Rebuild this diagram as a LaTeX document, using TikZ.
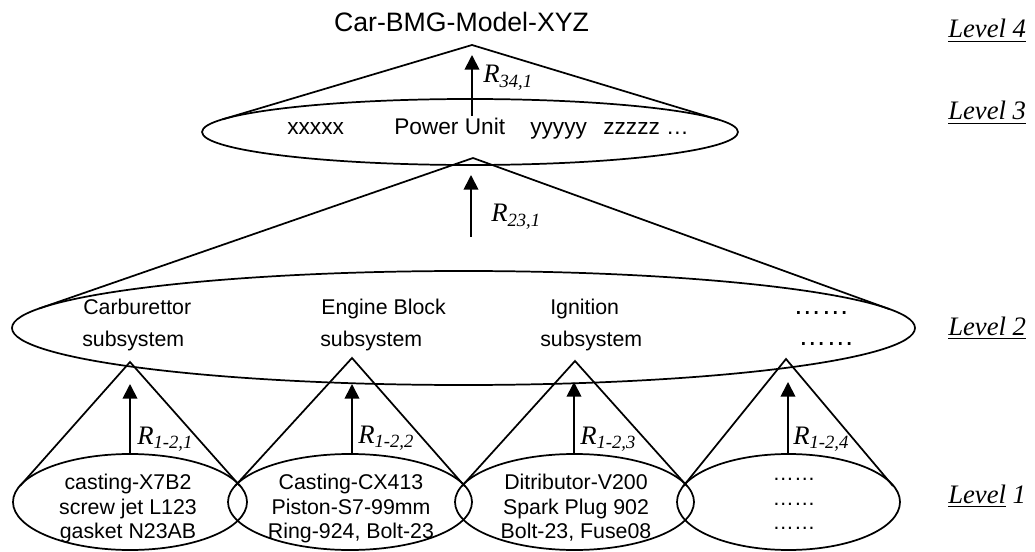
\documentclass[tikz,border=0pt]{standalone}
\usepackage{fontspec}
\setmainfont{Liberation Serif}
\newfontfamily\arial{Liberation Sans}
\usetikzlibrary{shapes.geometric,arrows.meta}
\newcommand{\Rl}[1]{{\fontsize{20}{24}\selectfont\itshape R}{\fontsize{14}{16}\selectfont\itshape\raisebox{-3.5pt}{#1}}}
\newcommand{\ulin}[1]{\setbox0\hbox{#1}\rlap{\rule[-3.2pt]{\wd0}{1.1pt}}\box0\relax}
\begin{document}
\begin{tikzpicture}[x=0.75pt,y=-0.75pt,
  ell/.style={draw, ellipse, inner sep=0pt, outer sep=0pt, line width=1.3pt},
  ln/.style={line width=1.3pt},
  arr/.style={line width=1.3pt, -{Triangle[length=11pt,width=11pt]}},
  btxt/.style={font=\arial\fontsize{16}{19}\selectfont, inner sep=0pt, anchor=base},
  stxt/.style={font=\arial\fontsize{16}{19}\selectfont, inner sep=0pt, anchor=base west},
  ptxt/.style={font=\arial\fontsize{17}{20}\selectfont, inner sep=0pt, anchor=base west},
  lev/.style={font=\itshape\fontsize{20}{24}\selectfont, inner sep=0pt, anchor=base west},
  rl/.style={inner sep=0pt, anchor=base west}]
\useasboundingbox (0,0) rectangle (1035,552);

% ellipses
\node[ell, minimum width=402pt, minimum height=49.5pt] (L3) at (470,132) {};
\node[ell, minimum width=677.25pt, minimum height=85.5pt] (L2) at (463.5,328) {};
\node[ell, minimum width=175.5pt, minimum height=72pt] (E1) at (130,502) {};
\node[ell, minimum width=183pt, minimum height=72pt] (E2) at (350,502) {};
\node[ell, minimum width=179.25pt, minimum height=72pt] (E3) at (574.5,502) {};
\node[ell, minimum width=167.25pt, minimum height=72pt] (E4) at (788.5,502) {};

% cones
\coordinate (a4) at (472,45);
\coordinate (t4l) at (222.4,119.4);
\coordinate (t4r) at (718.2,119.6);
\draw[ln] (t4l) -- (a4) -- (t4r);
\coordinate (a3) at (473,158);
\coordinate (t3l) at (39.2,308.5);
\coordinate (t3r) at (889.9,309.3);
\draw[ln] (t3l) -- (a3) -- (t3r);
\coordinate (c1) at (130,362);
\coordinate (c1l) at (20,486);
\coordinate (c1r) at (240,486);
\draw[ln] (c1l) -- (c1) -- (c1r);
\coordinate (c2) at (352,358);
\coordinate (c2l) at (235,486);
\coordinate (c2r) at (465,486.5);
\draw[ln] (c2l) -- (c2) -- (c2r);
\coordinate (c3) at (575,361);
\coordinate (c3l) at (462,486);
\coordinate (c3r) at (687,486);
\draw[ln] (c3l) -- (c3) -- (c3r);
\coordinate (c4) at (786,359);
\coordinate (c4l) at (683,486.5);
\coordinate (c4r) at (893,486);
\draw[ln] (c4l) -- (c4) -- (c4r);

% arrows
\coordinate (h4) at (472,55);
\coordinate (b4) at (472,116);
\draw[arr] (b4) -- (h4);
\coordinate (h3) at (471,175);
\coordinate (b3) at (471,237);
\draw[arr] (b3) -- (h3);
\coordinate (h11) at (130,384);
\coordinate (h12) at (352,384);
\coordinate (h13) at (574,382);
\coordinate (h14) at (788,382);
\draw[arr] (h11 |- E1.north) -- (h11);
\draw[arr] (h12 |- E2.north) -- (h12);
\draw[arr] (h13 |- E3.north) -- (h13);
\draw[arr] (h14 |- E4.north) -- (h14);

% relation labels
\node[rl] (r341) at (483,83) {\Rl{34,1}};
\node[rl] (r231) at (491,222) {\Rl{23,1}};
\node[rl] (r121) at (137,444) {\Rl{1-2,1}};
\node[rl] (r122) at (358,443) {\Rl{1-2,2}};
\node[rl] (r123) at (580,444) {\Rl{1-2,3}};
\node[rl] (r124) at (793,444) {\Rl{1-2,4}};

% title and level 3
\node[btxt, font=\arial\fontsize{20}{24}\selectfont] (title) at (461.5,32) {Car-BMG-Model-XYZ};
\node[ptxt] (px) at (287,135) {xxxxx};
\node[ptxt] (pu) at (394,135) {Power Unit};
\node[ptxt] (py) at (530,135) {yyyyy};
\node[ptxt] (pz) at (603,135) {zzzzz …};

% level 2
\node[stxt] (s1a) at (83,315) {Carburettor};
\node[stxt] (s1b) at (82,346) {subsystem};
\node[stxt] (s2a) at (321,315) {Engine Block};
\node[stxt] (s2b) at (320,346) {subsystem};
\node[stxt] (s3a) at (550,315) {Ignition};
\node[stxt] (s3b) at (540,346) {subsystem};
\node[stxt, font=\arial\fontsize{21}{24}\selectfont] (s4a) at (793,315) {……};
\node[stxt, font=\arial\fontsize{21}{24}\selectfont] (s4b) at (798,345) {……};

% level 1
\node[btxt] (e1a) at (128,489) {casting-X7B2};
\node[btxt] (e1b) at (128,514) {screw jet L123};
\node[btxt] (e1c) at (128,538) {gasket N23AB};
\node[btxt] (e2a) at (351,489) {Casting-CX413};
\node[btxt] (e2b) at (351,514) {Piston-S7-99mm};
\node[btxt] (e2c) at (351,538) {Ring-924, Bolt-23};
\node[btxt] (e3a) at (576,489) {Ditributor-V200};
\node[btxt] (e3b) at (576,514) {Spark Plug 902};
\node[btxt] (e3c) at (576,538) {Bolt-23, Fuse08};
\node[btxt] (e4a) at (794,480) {……};
\node[btxt] (e4b) at (794,505) {……};
\node[btxt] (e4c) at (794,529) {……};

% level labels
\node[lev] (lv4) at (948,38) {\ulin{Level 4}};
\node[lev] (lv3) at (948,120) {\ulin{Level 3}};
\node[lev] (lv2) at (948,335) {\ulin{Level 2}};
\node[lev] (lv1) at (948,503) {\ulin{Level} 1};
\end{tikzpicture}
\end{document}
